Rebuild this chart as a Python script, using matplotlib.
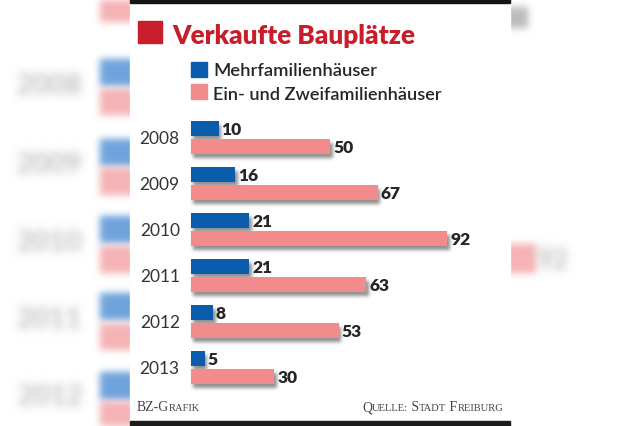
import numpy as np
import matplotlib
matplotlib.use("Agg")
import matplotlib.pyplot as plt
from matplotlib.patches import Rectangle
from matplotlib.transforms import ScaledTranslation

plt.rcParams['font.family'] = ['Lato', 'DejaVu Sans']

# ---------------- data ----------------
years = ["2008", "2009", "2010", "2011", "2012", "2013"]
mehrfamilien = [10, 16, 21, 21, 8, 5]
einzwei = [50, 67, 92, 63, 53, 30]
series_labels = ["Mehrfamilienhäuser", "Ein- und Zweifamilienhäuser"]
title = "Verkaufte Bauplätze"
credit = ["BZ-G", "RAFIK"]
source = ["Q", "UELLE:", " S", "TADT", " F", "REIBURG"]

BLUE = "#0b5cad"
PINK = "#f18b8c"
RED = "#c81e2b"
TXT = "#262626"

W, H = 640, 427
fig = plt.figure(figsize=(W / 100, H / 100), dpi=100)
fig.patch.set_facecolor("white")

# background axes in pixel coordinates
bg = fig.add_axes([0, 0, 1, 1])
bg.set_xlim(0, W)
bg.set_ylim(H, 0)
bg.axis("off")


class Blur:
    def __init__(self, sigma):
        self.sigma = sigma

    def __call__(self, im, dpi):
        s = self.sigma * dpi / 100.0
        pad = int(3 * s) + 1
        a = im[..., 3:4]
        rgbp = im[..., :3] * a
        arr = np.concatenate([rgbp, a], axis=2)
        arr = np.pad(arr, ((pad, pad), (pad, pad), (0, 0)))
        xs = np.arange(-pad, pad + 1)
        k = np.exp(-0.5 * (xs / s) ** 2)
        k /= k.sum()
        for ax_ in (0, 1):
            out = np.zeros_like(arr)
            for off, w in zip(xs, k):
                out += w * np.roll(arr, off, axis=ax_)
            arr = out
        alpha = arr[..., 3:4]
        rgb = arr[..., :3] / np.maximum(alpha, 1e-6)
        res = np.concatenate([np.clip(rgb, 0, 1), np.clip(alpha, 0, 1)], axis=2)
        return res, -pad, -pad


# blurred decorative backdrop (enlarged copy of the chart at the sides)
blur = Blur(3.5)
tblur = Blur(4.5)
lb = "#6fa3dc"
lp = "#f5b3b5"
lg = "#bdbdbd"
left_blocks = [(0, 22, lp), (60, 86, lb), (90, 115, lp), (140, 166, lb), (169, 195, lp),
               (217, 243, lb), (247, 273, lp), (294, 320, lb), (325, 350, lp),
               (373, 400, lb), (403, 430, lp)]
for y0, y1, c in left_blocks:
    r = Rectangle((100, y0), 40, y1 - y0, color=c, zorder=1)
    r.set_agg_filter(blur)
    bg.add_patch(r)
for yr, yc in zip(years[:5], [86, 165, 243, 320, 397]):
    t = bg.text(82, yc, yr, fontsize=20, color=lg, ha="right", va="center",
                fontweight="bold", zorder=1)
    t.set_agg_filter(tblur)
r = Rectangle((505, 8), 22, 20, color="#bdbdbd", zorder=1)
r.set_agg_filter(blur)
bg.add_patch(r)
r = Rectangle((500, 245), 35, 28, color=lp, zorder=1)
r.set_agg_filter(blur)
bg.add_patch(r)
t = bg.text(537, 261, "92", fontsize=20, color=lg, ha="left", va="center",
            fontweight="bold", zorder=1)
t.set_agg_filter(tblur)

# white panel and black rules
bg.add_patch(Rectangle((130, 0), 380, H, color="white", zorder=2))
bg.add_patch(Rectangle((130, 0), 380, 4, color="#151515", zorder=3))
bg.add_patch(Rectangle((130, 422), 380, 5, color="#1d1d1d", zorder=3))

# title
bg.add_patch(Rectangle((138, 22), 24, 22, color=RED, zorder=3))
bg.text(172, 43.5, title, fontsize=18.8, fontweight="heavy", color=RED,
        ha="left", va="baseline", zorder=4)

# legend
bg.add_patch(Rectangle((190.5, 62.5), 16.5, 15, color=BLUE, zorder=3))
bg.add_patch(Rectangle((190.5, 85), 16.5, 15, color=PINK, zorder=3))
bg.text(213, 76.5, series_labels[0], fontsize=13.2, fontweight="semibold",
        color=TXT, ha="left", va="baseline", zorder=4)
bg.text(213, 99.5, series_labels[1], fontsize=13.1, fontweight="semibold",
        color=TXT, ha="left", va="baseline", zorder=4)

# footer in small caps (simulated with measured pieces)
renderer = fig.canvas.get_renderer()


def small_caps(x, y, pieces, big=9.9, small=7.6):
    for i, p in enumerate(pieces):
        size = big if i % 2 == 0 else small
        t = bg.text(x, y, p, fontsize=size, family="Liberation Serif",
                    color="#444444", ha="left", va="baseline", zorder=4)
        x += t.get_window_extent(renderer=renderer).width * 100 / fig.dpi


small_caps(137, 411.5, credit)
small_caps(362, 411.5, source)

# ---------------- bars ----------------
px_per_unit = 2.79
x0_px = 190.7
group_px = 46.0
top_px = 138.75 - group_px / 2
n = len(years)
ax = fig.add_axes([x0_px / W, (H - (top_px + n * group_px)) / H,
                   100 * px_per_unit / W, n * group_px / H])
ax.set_xlim(0, 100)
ax.set_ylim(n - 0.5, -0.5)
ax.axis("off")

pos = np.arange(n)
hb = 0.325
shift = ax.transData + ScaledTranslation(0.025, -0.035, fig.dpi_scale_trans)
sblur = Blur(1.8)
for vals, dy in ((mehrfamilien, -0.2), (einzwei, 0.2)):
    sh = ax.barh(pos + dy, vals, height=hb, color="#6a6a6a", alpha=0.75, zorder=2)
    for r in sh:
        r.set_transform(shift)
        r.set_clip_on(False)
        r.set_agg_filter(sblur)
ax.barh(pos - 0.2, mehrfamilien, height=hb, color=BLUE, zorder=3)
ax.barh(pos + 0.2, einzwei, height=hb, color=PINK, zorder=3)

for i in range(n):
    ax.text(mehrfamilien[i] + 1.0, pos[i] - 0.2, str(mehrfamilien[i]), fontsize=12.5,
            fontweight="heavy", color=TXT, ha="left", va="center", zorder=4)
    ax.text(einzwei[i] + 1.0, pos[i] + 0.2, str(einzwei[i]), fontsize=12.5,
            fontweight="heavy", color=TXT, ha="left", va="center", zorder=4)
    ax.text(-3.9, pos[i], years[i], fontsize=12.5, color="#333333",
            ha="right", va="center", zorder=4, clip_on=False)

fig.savefig("out.png", dpi=100, facecolor="white")
